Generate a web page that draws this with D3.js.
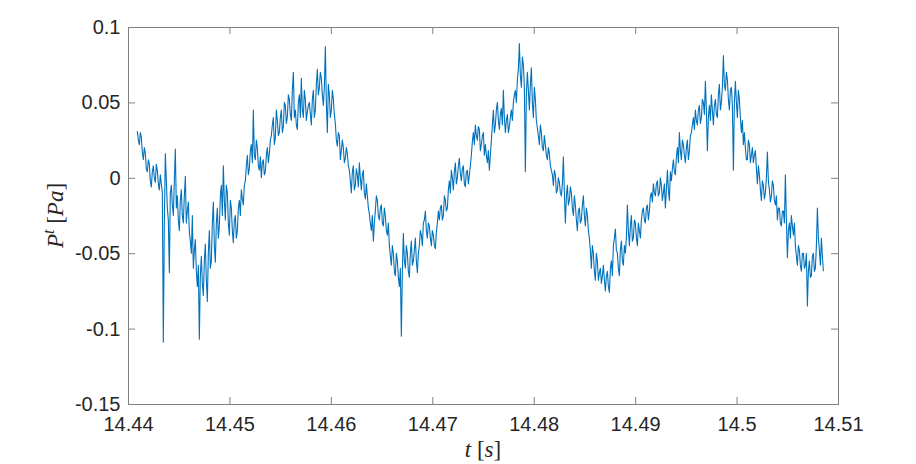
<!DOCTYPE html>
<html lang="en">
  <head>
  <meta charset="utf-8">
  <script type="text/javascript" src="https://d3js.org/d3.v7.min.js"></script>
  <style type="text/css">
    body {
      margin: 0px;
      background: #fff;
    }
    .signal {
      fill: none;
      stroke: #0072bd;
      stroke-width: 1.1;
      stroke-linejoin: round;
    }
    .axis text {
      font-family: "Liberation Sans", Arial, sans-serif;
      font-size: 20px;
      fill: #262626;
    }
    .axis line {
      stroke: #808080;
    }
    .axis path {
      display: none;
    }
    .label {
      font-family: "Liberation Serif", "DejaVu Serif", serif;
      font-size: 23px;
      fill: #262626;
    }
  </style>
  </head>

  <body>
    <div id="svg"></div>
    <script type="text/javascript">
        // sampling grid of the recorded signal
        var tStart = 14.44092;
        var dt = 0.0001972;

        // pressure values [Pa], in four consecutive chunks
        var pressureA = [
          0.031, 0.022, 0.027, 0.012, 0.016, 0.004, 0.009, -0.006, 0.008, -0.003, 0.005, -0.008,
          -0.004, -0.109, 0.016, -0.020, -0.063, -0.005, -0.025, 0.019, -0.012, -0.035, -0.008, -0.030, 0.001, -0.022, -0.036, -0.050,
          -0.060, -0.041, -0.072, -0.107, -0.052, -0.078, -0.044, -0.082, -0.035, -0.055, -0.016,
          -0.056, -0.020, -0.032, -0.005, 0.008, -0.028, -0.010, -0.038, -0.020, -0.043, -0.025, -0.035, -0.015, -0.008, -0.018, -0.002,
          0.015, 0.006, 0.022, 0.045, 0.012, 0.020, 0.005, 0.000, 0.012, 0.004, 0.020, 0.016, 0.028, 0.040, 0.027, 0.038,
          0.030, 0.045, 0.034, 0.048, 0.040, 0.052, 0.038, 0.070, 0.045, 0.032, 0.055, 0.066, 0.040, 0.052, 0.044
        ];
        var pressureB = [
          0.050, 0.035, 0.058, 0.045, 0.072, 0.060, 0.066, 0.048, 0.087, 0.030, 0.055, 0.045, 0.052, 0.036, 0.021, 0.028, 0.018, 0.020, 0.013, 0.016,
          0.005, -0.010, 0.008, -0.005, 0.002, 0.010, -0.008, 0.005, -0.014, -0.012, -0.024, -0.035, -0.042, -0.022, -0.015, -0.028, -0.018, -0.032, -0.025, -0.038,
          -0.045, -0.058, -0.050, -0.065, -0.055, -0.072, -0.105, -0.037, -0.060, -0.050, -0.066, -0.042, -0.055, -0.040, -0.063, -0.045, -0.038, -0.030, -0.022, -0.040,
          -0.032, -0.045, -0.038, -0.047, -0.030, -0.028, -0.018, -0.025, -0.015, -0.020, -0.002, 0.005, -0.008, 0.010, 0.000, 0.013, -0.002, 0.008, -0.006, 0.005,
          0.002, 0.015, 0.030, 0.035, 0.025, 0.032, 0.022, 0.030
        ];
        var pressureC = [
          0.022, 0.010, 0.005, 0.025, 0.045, 0.035, 0.050, 0.032, 0.046, 0.058, 0.030, 0.042, 0.034, 0.045, 0.050, 0.058, 0.065, 0.089, 0.060, 0.075,
          0.004, 0.070, 0.045, 0.073, 0.040, 0.052, 0.033, 0.022, 0.030, 0.018, 0.022, 0.012, 0.016, 0.005, -0.005, 0.002, -0.008, -0.003, -0.012, 0.014,
          -0.030, -0.005, -0.015, -0.010, -0.025, -0.018, -0.035, -0.020, -0.028, -0.012, -0.032, -0.025, -0.040, -0.060, -0.050, -0.068, -0.055, -0.063, -0.070, -0.058,
          -0.075, -0.062, -0.076, -0.055, -0.045, -0.034, -0.050, -0.065, -0.042, -0.058, -0.050, -0.018, -0.045, -0.025, -0.040, -0.030, -0.045, -0.035, -0.028, -0.020,
          -0.030, -0.018, -0.022, -0.010, -0.004, -0.012, -0.002, -0.010, -0.005
        ];
        var pressureD = [
          -0.010, -0.020, 0.005, -0.015, -0.002, 0.012, 0.002, 0.020, 0.030, 0.012, 0.022, 0.010, 0.025, 0.018, 0.030, 0.040, 0.045, 0.035, 0.048, 0.040,
          0.050, 0.064, 0.018, 0.048, 0.055, 0.035, 0.052, 0.040, 0.062, 0.050, 0.081, 0.058, 0.065, 0.045, 0.060, 0.005, 0.064, 0.040, 0.052, 0.030,
          0.022, 0.020, 0.012, 0.022, 0.015, 0.010, 0.018, -0.004, 0.002, -0.015, -0.005, -0.010, 0.017, -0.008, -0.012, -0.005, -0.018, -0.028, -0.020, -0.032,
          -0.022, 0.002, -0.053, -0.030, -0.025, -0.038, -0.045, -0.058, -0.048, -0.062, -0.050, -0.058, -0.085, -0.055, -0.065, -0.050, -0.060, -0.020, -0.048, -0.040,
          -0.062
        ];

        // values in between the samples above (half a step later)
        var pressureMidA = [
          0.025, 0.030, 0.017, 0.020, 0.006, 0.012, -0.002, 0.004, 0.000, 0.009, -0.004, 0.002,
          -0.010, -0.030, -0.002, -0.028, -0.010, -0.018, -0.002, -0.020, -0.028, -0.015, -0.025, -0.012, -0.030, -0.016, -0.042, -0.025,
          -0.048, -0.062, -0.058, -0.065, -0.070, -0.055, -0.068, -0.050, -0.060, -0.030, -0.045,
          -0.030, -0.040, -0.012, -0.025, -0.015, -0.005, -0.030, -0.015, -0.035, -0.028, -0.040, -0.020, -0.025, -0.014, -0.005, 0.008,
          0.002, 0.018, 0.010, 0.015, 0.025, 0.008, 0.014, 0.010, 0.002, 0.015, 0.010, 0.025, 0.035, 0.022, 0.045, 0.028,
          0.040, 0.030, 0.050, 0.036, 0.055, 0.042, 0.058, 0.040, 0.035, 0.050, 0.040, 0.045, 0.058, 0.038, 0.048
        ];
        var pressureMidB = [
          0.042, 0.052, 0.040, 0.062, 0.055, 0.070, 0.055, 0.060, 0.050, 0.062, 0.040, 0.058, 0.042, 0.025, 0.030, 0.012, 0.025, 0.010, 0.020, 0.008,
          -0.002, 0.004, -0.008, 0.006, -0.006, 0.000, 0.002, -0.010, -0.004, -0.020, -0.030, -0.025, -0.030, -0.012, -0.025, -0.020, -0.030, -0.020, -0.035, -0.030,
          -0.052, -0.045, -0.062, -0.050, -0.066, -0.060, -0.062, -0.055, -0.045, -0.062, -0.050, -0.058, -0.048, -0.055, -0.050, -0.035, -0.045, -0.028, -0.035, -0.030,
          -0.040, -0.035, -0.045, -0.036, -0.022, -0.020, -0.028, -0.012, -0.022, -0.008, -0.010, 0.000, 0.004, -0.004, 0.008, 0.003, 0.006, -0.004, 0.004, -0.004,
          0.008, 0.024, 0.022, 0.028, 0.034, 0.018, 0.028, 0.015
        ];
        var pressureMidC = [
          0.015, 0.018, 0.015, 0.035, 0.030, 0.045, 0.038, 0.042, 0.035, 0.040, 0.038, 0.030, 0.040, 0.038, 0.055, 0.050, 0.072, 0.068, 0.080, 0.060,
          0.055, 0.058, 0.062, 0.050, 0.060, 0.038, 0.028, 0.035, 0.020, 0.028, 0.015, 0.020, 0.008, 0.002, 0.005, -0.010, 0.000, -0.010, -0.004, -0.010,
          -0.012, -0.018, -0.006, -0.020, -0.012, -0.028, -0.022, -0.030, -0.018, -0.025, -0.020, -0.035, -0.048, -0.045, -0.062, -0.050, -0.068, -0.060, -0.065, -0.068,
          -0.065, -0.072, -0.060, -0.065, -0.040, -0.048, -0.060, -0.048, -0.055, -0.045, -0.040, -0.035, -0.032, -0.042, -0.028, -0.040, -0.030, -0.040, -0.022, -0.028,
          -0.020, -0.028, -0.012, -0.016, -0.010, -0.004, -0.012, 0.000, -0.015
        ];
        var pressureMidD = [
          -0.004, -0.008, -0.008, 0.004, 0.006, 0.004, 0.014, 0.010, 0.018, 0.025, 0.015, 0.020, 0.012, 0.028, 0.035, 0.032, 0.038, 0.045, 0.036, 0.052,
          0.042, 0.045, 0.040, 0.038, 0.045, 0.048, 0.042, 0.055, 0.045, 0.060, 0.062, 0.070, 0.052, 0.058, 0.048, 0.050, 0.050, 0.058, 0.040, 0.038,
          0.030, 0.012, 0.025, 0.010, 0.020, 0.015, 0.006, 0.008, -0.008, -0.002, -0.014, 0.000, -0.002, -0.016, -0.002, -0.015, -0.012, -0.020, -0.030, -0.022,
          -0.030, -0.028, -0.035, -0.040, -0.032, -0.030, -0.052, -0.045, -0.058, -0.050, -0.060, -0.050, -0.062, -0.066, -0.052, -0.062, -0.045, -0.040, -0.058, -0.052
        ];

        var xTicks = [14.44, 14.45, 14.46, 14.47, 14.48, 14.49, 14.5, 14.51];
        var xTickLabels = ["14.44", "14.45", "14.46", "14.47", "14.48", "14.49", "14.5", "14.51"];
        var yTicks = [-0.15, -0.1, -0.05, 0, 0.05, 0.1];
        var yTickLabels = ["-0.15", "-0.1", "-0.05", "0", "0.05", "0.1"];

        var pressure = pressureA.concat(pressureB, pressureC, pressureD);
        var pressureMid = pressureMidA.concat(pressureMidB, pressureMidC, pressureMidD);
        var data = [];
        pressure.forEach(function(p, i) {
          data.push({t: tStart + i * dt, p: p});
          if (i < pressureMid.length) data.push({t: tStart + (i + 0.5) * dt, p: pressureMid[i]});
        });

        var W = 916, H = 464;
        var margin = {top: 27, right: 78, bottom: 60, left: 128},
        width = W - margin.left - margin.right,
        height = H - margin.top - margin.bottom;

        var svg = d3.select("#svg").append("svg")
          .attr("width", W)
          .attr("height", H)
          .append("g")
          .attr("transform", "translate(" + margin.left + "," + margin.top + ")");

        var x = d3.scaleLinear().domain([14.44, 14.51]).range([0, width]);
        var y = d3.scaleLinear().domain([-0.15, 0.1]).range([height, 0]);

        // axes, ticks pointing inwards (box on)
        svg.append("g")
          .attr("class", "axis")
          .attr("transform", "translate(0," + height + ")")
          .call(d3.axisBottom(x).tickValues(xTicks).tickSizeInner(-7).tickSizeOuter(0).tickPadding(13)
            .tickFormat(function(d, i) { return xTickLabels[i]; }));
        svg.append("g")
          .attr("class", "axis")
          .call(d3.axisTop(x).tickValues(xTicks).tickSizeInner(-7).tickSizeOuter(0).tickFormat(""));
        svg.append("g")
          .attr("class", "axis")
          .call(d3.axisLeft(y).tickValues(yTicks).tickSizeInner(-7).tickSizeOuter(0).tickPadding(7.5)
            .tickFormat(function(d, i) { return yTickLabels[i]; }));
        svg.append("g")
          .attr("class", "axis")
          .attr("transform", "translate(" + width + ",0)")
          .call(d3.axisRight(y).tickValues(yTicks).tickSizeInner(-7).tickSizeOuter(0).tickFormat(""));

        svg.append("rect")
          .attr("x", 0).attr("y", 0)
          .attr("width", width).attr("height", height)
          .attr("fill", "none")
          .attr("stroke", "#808080")
          .attr("stroke-width", 1)
          .attr("shape-rendering", "crispEdges");

        var line = d3.line()
          .x(function(d) { return x(d.t); })
          .y(function(d) { return y(d.p); });

        svg.append("path")
          .datum(data)
          .attr("class", "signal")
          .attr("d", line);

        // labels
        var xl = svg.append("text")
          .attr("class", "label")
          .attr("x", width / 2)
          .attr("y", height + 53)
          .style("text-anchor", "middle");
        xl.append("tspan").style("font-style", "italic").text("t");
        xl.append("tspan").text(" [");
        xl.append("tspan").style("font-style", "italic").text("s");
        xl.append("tspan").text("]");

        var yl = svg.append("text")
          .attr("class", "label")
          .attr("transform", "translate(" + (-65) + "," + (height / 2) + ") rotate(-90)")
          .style("text-anchor", "middle");
        yl.append("tspan").style("font-style", "italic").text("P");
        yl.append("tspan").style("font-style", "italic").style("font-size", "16px").attr("dy", -9).text("t");
        yl.append("tspan").attr("dy", 9).text(" [");
        yl.append("tspan").style("font-style", "italic").text("Pa");
        yl.append("tspan").text("]");
    </script>
  </body>
</html>
